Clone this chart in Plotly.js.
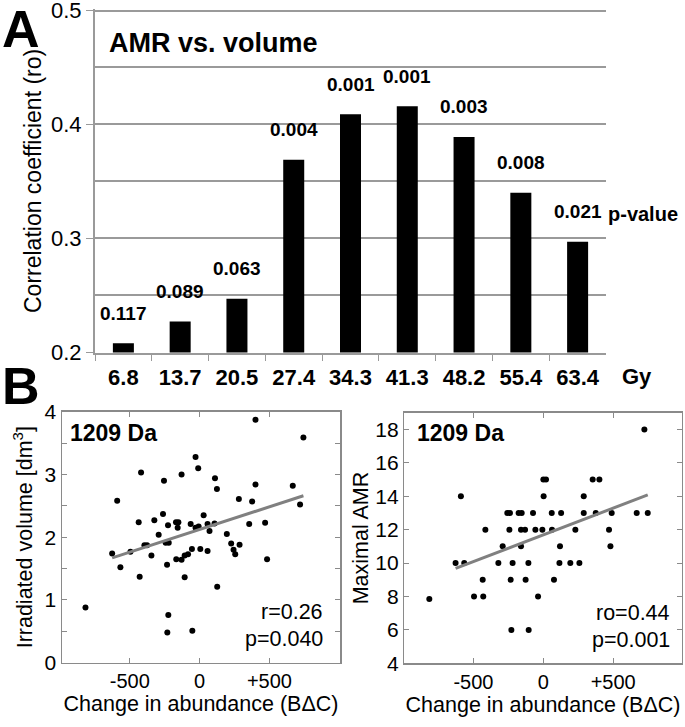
<!DOCTYPE html>
<html><head><meta charset="utf-8">
<script src="https://cdn.plot.ly/plotly-3.0.1.min.js"></script>
<style>html,body{margin:0;padding:0;background:#fff}#chart{width:685px;height:727px}</style>
</head><body><div id="chart"></div>
<script>
// ---- Panel A data ----
const doseCategories = ['6.8','13.7','20.5','27.4','34.3','41.3','48.2','55.4','63.4'];
const rhoValues = [0.208,0.227,0.247,0.369,0.409,0.416,0.389,0.340,0.297];
const pValueLabels = ['0.117','0.089','0.063','0.004','0.001','0.001','0.003','0.008','0.021'];
const rhoTickVals = [0.2,0.3,0.4,0.5];
const rhoTickText = ['0.2','0.3','0.4','0.5'];

// ---- Panel B left: change in abundance vs irradiated volume ----
const volX = [-817,-626,-590,-567,-495,-429,-436,-419,-395,-376,-345,-324,-293,-262,-255,-243,-233,-226,-224,-231,-221,-167,-169,-157,-152,-129,-129,-107,-107,-83,-64,-55,-52,-29,-29,-10,-7,5,29,57,57,71,110,107,124,126,195,226,243,255,281,286,355,376,400,400,469,483,667,719,743];
const volY = [0.88,1.74,2.58,1.52,1.77,1.37,2.24,3.03,1.87,1.87,1.71,2.27,2.04,2.37,2.90,1.91,1.56,2.19,0.76,0.48,1.91,1.65,2.24,2.15,2.24,3.00,1.64,1.36,1.71,1.73,2.21,1.81,0.51,3.28,2.15,3.10,2.17,1.81,2.35,2.21,1.78,2.10,2.94,2.22,2.77,1.21,2.05,1.90,1.80,1.73,2.61,1.88,2.21,2.57,3.87,2.84,2.23,1.65,2.82,2.52,3.59];
const volFitX = [-626,743];
const volFitY = [1.67,2.66];
const volTickVals = [0,1,2,3,4];

// ---- Panel B right: change in abundance vs maximal AMR ----
const amrX = [723,0,19,353,401,-590,2,289,-258,-239,-177,-155,-74,60,127,289,375,489,668,747,-415,-243,-160,-131,-57,-7,62,229,470,-291,-160,119,480,-628,-566,-322,-220,-107,115,193,258,-434,-234,-127,76,-496,-430,-38,-816,-229,-105];
const amrY = [18,15,15,15,15,14,14,14,13,13,13,13,13,13,13,13,13,13,13,13,12,12,12,12,12,12,12,12,12,11,11,11,11,10,10,10,10,10,10,10,10,9,9,9,9,8,8,8,7.85,6,6];
const amrFitX = [-628,747];
const amrFitY = [9.68,14.08];
const amrTickVals = [4,6,8,10,12,14,16,18];
const abundTickVals = [-500,0,500];
const abundTickText = ['-500','0','+500'];

const FONT = '"Liberation Sans", Arial, sans-serif';
const GRID = '#9a9a9a';
const FRAME = '#8a8a8a';

const traces = [
  {type:'bar', x: doseCategories, y: rhoValues, marker:{color:'#000'}, xaxis:'x', yaxis:'y', hoverinfo:'skip'},
  {type:'scatter', mode:'markers', x: volX, y: volY, marker:{color:'#000', size:6}, xaxis:'x2', yaxis:'y2'},
  {type:'scatter', mode:'lines', x: volFitX, y: volFitY, line:{color:'#808080', width:3}, xaxis:'x2', yaxis:'y2'},
  {type:'scatter', mode:'markers', x: amrX, y: amrY, marker:{color:'#000', size:6}, xaxis:'x3', yaxis:'y3'},
  {type:'scatter', mode:'lines', x: amrFitX, y: amrFitY, line:{color:'#808080', width:3}, xaxis:'x3', yaxis:'y3'}
];

const W = 685, H = 727;
const px = v => v / W;
const py = v => 1 - v / H;

const annotations = [];
pValueLabels.forEach((t, i) => {
  annotations.push({xref:'x', yref:'y', x: i, y: rhoValues[i], text: '<b>' + t + '</b>',
    showarrow:false, yanchor:'middle', yshift:30, font:{family:FONT, size:19, color:'#000'}});
});
annotations.push({xref:'paper', yref:'paper', x: px(643), y: py(214), text:'<b>p-value</b>', showarrow:false, xanchor:'center', yanchor:'middle', font:{family:FONT, size:20, color:'#000'}});
annotations.push({xref:'paper', yref:'paper', x: px(637), y: py(376), text:'<b>Gy</b>', showarrow:false, xanchor:'center', yanchor:'middle', font:{family:FONT, size:22, color:'#000'}});
annotations.push({xref:'paper', yref:'paper', x: px(107), y: py(43), text:'<b>AMR vs. volume</b>', showarrow:false, xanchor:'left', yanchor:'middle', font:{family:FONT, size:27, color:'#000'}});
annotations.push({xref:'paper', yref:'paper', x: px(0), y: py(29), text:'<b>A</b>', showarrow:false, xanchor:'left', yanchor:'middle', font:{family:FONT, size:52, color:'#000'}});
annotations.push({xref:'paper', yref:'paper', x: px(0), y: py(386), text:'<b>B</b>', showarrow:false, xanchor:'left', yanchor:'middle', font:{family:FONT, size:52, color:'#000'}});
// panel B texts
annotations.push({xref:'paper', yref:'paper', x: px(68), y: py(433), text:'<b>1209 Da</b>', showarrow:false, xanchor:'left', yanchor:'middle', font:{family:FONT, size:23, color:'#000'}});
annotations.push({xref:'paper', yref:'paper', x: px(415), y: py(433), text:'<b>1209 Da</b>', showarrow:false, xanchor:'left', yanchor:'middle', font:{family:FONT, size:23, color:'#000'}});
annotations.push({xref:'paper', yref:'paper', x: px(325), y: py(612), text:'r=0.26', showarrow:false, xanchor:'right', yanchor:'middle', font:{family:FONT, size:21.5, color:'#000'}});
annotations.push({xref:'paper', yref:'paper', x: px(325), y: py(639), text:'p=0.040', showarrow:false, xanchor:'right', yanchor:'middle', font:{family:FONT, size:21.5, color:'#000'}});
annotations.push({xref:'paper', yref:'paper', x: px(672), y: py(613), text:'ro=0.44', showarrow:false, xanchor:'right', yanchor:'middle', font:{family:FONT, size:21.5, color:'#000'}});
annotations.push({xref:'paper', yref:'paper', x: px(672), y: py(640), text:'p=0.001', showarrow:false, xanchor:'right', yanchor:'middle', font:{family:FONT, size:21.5, color:'#000'}});

const scatterX = (dom, range) => ({
  domain: dom, range: range, tickvals: abundTickVals, ticktext: abundTickText,
  ticks:'inside', ticklen:5, tickcolor:FRAME, showline:true, linecolor:FRAME, linewidth:1.5, mirror:'ticks',
  showgrid:false, zeroline:false, tickfont:{family:FONT, size:20, color:'#000'}, ticklabelstandoff:0,
  title:{text:'Change in abundance (B\u0394C)', font:{family:FONT, size:21.5, color:'#000'}, standoff:0}, automargin:false
});

const layout = {
  width: W, height: H, margin:{l:0, r:0, t:0, b:0}, showlegend:false,
  paper_bgcolor:'#fff', plot_bgcolor:'rgba(0,0,0,0)', bargap:0.63,
  font:{family:FONT, color:'#000'},
  xaxis:{domain:[px(95), px(606)], anchor:'y', type:'category', range:[-0.5, 8.5], showgrid:false, zeroline:false,
    showline:true, linecolor:GRID, linewidth:2, ticks:'outside', tickson:'boundaries', ticklen:6, tickcolor:GRID,
    tickfont:{family:FONT, size:22, color:'#000', weight:'bold'}, tickangle:0, ticklabelstandoff:4, automargin:false},
  yaxis:{domain:[py(352.5), py(9.36)], anchor:'x', range:[0.1999,0.501], tickvals:rhoTickVals, ticktext:rhoTickText,
    showgrid:true, gridcolor:GRID, gridwidth:2, zeroline:false, showline:true, linecolor:GRID, linewidth:2,
    minor:{dtick:0.05, tick0:0.2, showgrid:true, gridcolor:GRID, gridwidth:2, ticks:''},
    ticks:'outside', ticklen:7, tickcolor:GRID, tickfont:{family:FONT, size:22, color:'#000'}, ticklabeloverflow:'allow',
    title:{text:'Correlation coefficient (ro)', font:{family:FONT, size:23, color:'#000'}, standoff:3}, automargin:false},
  xaxis2: Object.assign(scatterX([px(62), px(340)], [-985,1005]), {anchor:'y2'}),
  yaxis2:{domain:[py(662.7), py(411.7)], anchor:'x2', range:[0,4], tickvals:volTickVals,
    ticks:'inside', ticklen:5, tickcolor:FRAME, showline:true, linecolor:FRAME, linewidth:1.5, mirror:'ticks',
    minor:{dtick:0.5, tick0:0, ticks:'inside', ticklen:5, tickcolor:FRAME},
    showgrid:false, zeroline:false, tickfont:{family:FONT, size:21, color:'#000'}, ticklabeloverflow:'allow',
    title:{text:'Irradiated volume [dm<sup>3</sup>]', font:{family:FONT, size:21.5, color:'#000'}, standoff:6}, automargin:false},
  xaxis3: Object.assign(scatterX([px(404.3), px(681.7)], [-995,990]), {anchor:'y3'}),
  yaxis3:{domain:[py(663.3), py(412.7)], anchor:'x3', range:[4,19], tickvals:amrTickVals,
    ticks:'inside', ticklen:5, tickcolor:FRAME, showline:true, linecolor:FRAME, linewidth:1.5, mirror:'ticks',
    showgrid:false, zeroline:false, tickfont:{family:FONT, size:21, color:'#000'}, ticklabeloverflow:'allow',
    title:{text:'Maximal AMR', font:{family:FONT, size:21.5, color:'#000'}, standoff:0}, automargin:false},
  annotations: annotations
};

Plotly.newPlot('chart', traces, layout, {staticPlot:true, displayModeBar:false});
</script></body></html>
